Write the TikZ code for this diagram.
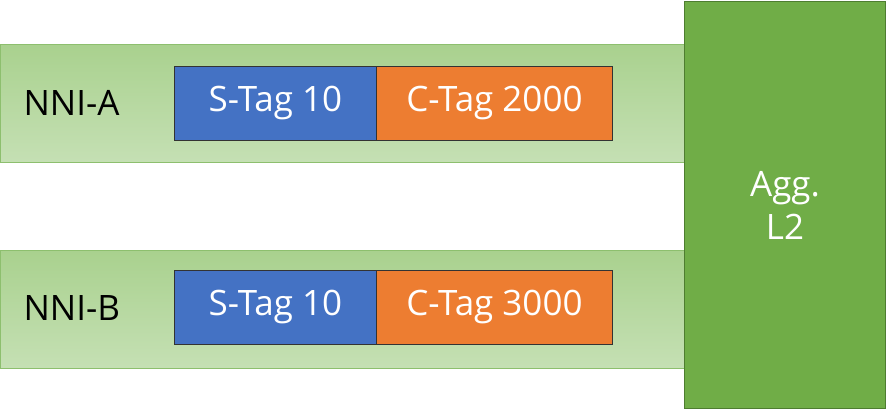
\documentclass[tikz,border=0pt]{standalone}
\usepackage{fontspec}
\setmainfont{Open Sans}
\definecolor{barA}{HTML}{C5E0B4}
\definecolor{barB}{HTML}{A9D18E}
\definecolor{barE}{HTML}{8DBF6E}
\definecolor{sblue}{HTML}{4472C4}
\definecolor{corange}{HTML}{ED7D31}
\definecolor{agg}{HTML}{70AD47}
\definecolor{aggE}{HTML}{4E7D30}
\begin{document}
\begin{tikzpicture}[x=1pt,y=-1pt,
  bar/.style={draw=barE,line width=0.8pt,top color=barB,bottom color=barA,minimum height=118pt,anchor=north west,minimum width=684pt,inner sep=0},
  tag/.style={draw=black!80,line width=0.8pt,anchor=north west,minimum height=74pt,inner sep=0,text=white,font=\fontsize{35}{40}\selectfont},
  lbl/.style={anchor=west,font=\fontsize{35}{40}\selectfont}]
\useasboundingbox (0,0) rectangle (887,410);
\node[bar] (barA) at (0,44) {};
\node[bar] (barB) at (0,250) {};
\node[lbl] (la) at (20,103) {NNI-A};
\node[lbl] (lb) at (20,308) {NNI-B};
\node[tag,fill=sblue,minimum width=202pt] (sa) at (174,66) {S-Tag 10};
\node[tag,fill=corange,minimum width=236pt] (ca) at (376,66) {C-Tag 2000};
\node[tag,fill=sblue,minimum width=202pt] (sb) at (174,270) {S-Tag 10};
\node[tag,fill=corange,minimum width=236pt] (cb) at (376,270) {C-Tag 3000};
\node[draw=aggE,line width=1pt,fill=agg,anchor=north west,minimum width=201pt,minimum height=407pt,inner sep=0,text=white,align=center,font=\fontsize{35}{43}\selectfont] (agg) at (684,1) {Agg.\\L2};
\end{tikzpicture}
\end{document}
